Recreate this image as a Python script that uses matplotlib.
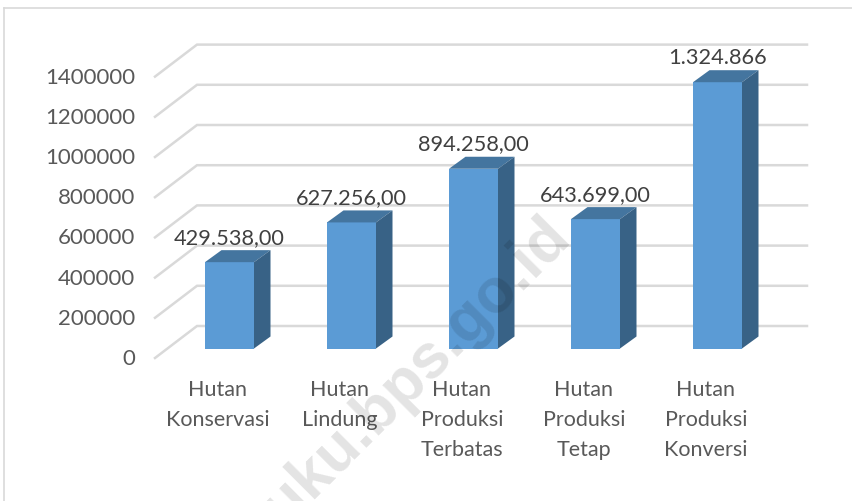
import matplotlib
matplotlib.use("Agg")
import matplotlib.pyplot as plt
from matplotlib.patches import Polygon, Rectangle

plt.rcParams['font.family'] = ['Lato', 'DejaVu Sans']

categories = ["Hutan\nKonservasi", "Hutan\nLindung", "Hutan\nProduksi\nTerbatas",
              "Hutan\nProduksi\nTetap", "Hutan\nProduksi\nKonversi"]
values = [429538, 627256, 894258, 643699, 1324866]
value_labels = ["429.538,00", "627.256,00", "894.258,00", "643.699,00", "1.324.866"]
ticks = [0, 200000, 400000, 600000, 800000, 1000000, 1200000, 1400000]

W, H = 852, 501
fig = plt.figure(figsize=(W / 100, H / 100), dpi=100)
ax = fig.add_axes([0, 0, 1, 1])

# scales: one category = 122 px, 200000 = 40.2 px
px_x = 1 / 122
px_y = 200000 / 40.2
x0_px, y0_px = 229.5, 348.5
ax.set_xlim(-x0_px * px_x, (W - x0_px) * px_x)
ax.set_ylim(-(H - y0_px) * px_y, y0_px * px_y)
ax.axis("off")

bw = 49 * px_x
dx, dy = 16.5 * px_x, 12 * px_y
# gridlines: wall goes back and up, floor of the axis sits below bar bottoms
front_shift = -9.5 * px_y
left = -74.5 * px_x
back_left = -32.5 * px_x
right = 577.5 * px_x
back_rise = 22.5 * px_y
grid = "#d9d9d9"
for t in ticks:
    ax.plot([left, back_left, right],
            [t + front_shift, t + back_rise, t + back_rise],
            color=grid, lw=1.8, solid_joinstyle="miter", zorder=1)
    ax.text(-94.5 * px_x, t + front_shift - 1 * px_y, f"{t}", ha="right", va="center",
            fontsize=16, color="#595959", zorder=5)

for i, v in enumerate(values):
    l = i - bw / 2
    r = i + bw / 2
    ax.add_patch(Rectangle((l, 0), bw, v, fc="#5b9bd5", ec="none", zorder=3))
    ax.add_patch(Polygon([(l, v), (r, v), (r + dx, v + dy), (l + dx, v + dy)],
                         fc="#44759f", ec="none", zorder=3))
    ax.add_patch(Polygon([(r, 0), (r + dx, dy), (r + dx, v + dy), (r, v)],
                         fc="#386286", ec="none", zorder=3))
    ax.text(i, v + 24.5 * px_y, value_labels[i], ha="center", va="center",
            fontsize=15.7, color="#404040", zorder=5)
    for j, line in enumerate(categories[i].split("\n")):
        ax.text(i - 11.5 * px_x, -(42 + 29.5 * j) * px_y, line, ha="center", va="center",
                fontsize=15.5, color="#595959", zorder=5)

# watermark sits over everything, runs off the bottom edge like the original
ax.text((572 - x0_px) * px_x, (y0_px - 238) * px_y, "buku.bps.go.id", rotation=45,
        rotation_mode="anchor", ha="right", va="baseline", fontsize=45,
        fontweight="bold", family="Liberation Sans", color="black", alpha=0.11, zorder=6)

# outer chart frame
ax.plot([(4.5 - x0_px) * px_x] * 2, [-(H - y0_px) * px_y, (y0_px - 8.5) * px_y],
        color="#d9d9d9", lw=1.2, zorder=1)
ax.plot([(4.5 - x0_px) * px_x, (W - x0_px) * px_x], [(y0_px - 8.5) * px_y] * 2,
        color="#d9d9d9", lw=1.2, zorder=1)

fig.savefig("out.png", dpi=100)
